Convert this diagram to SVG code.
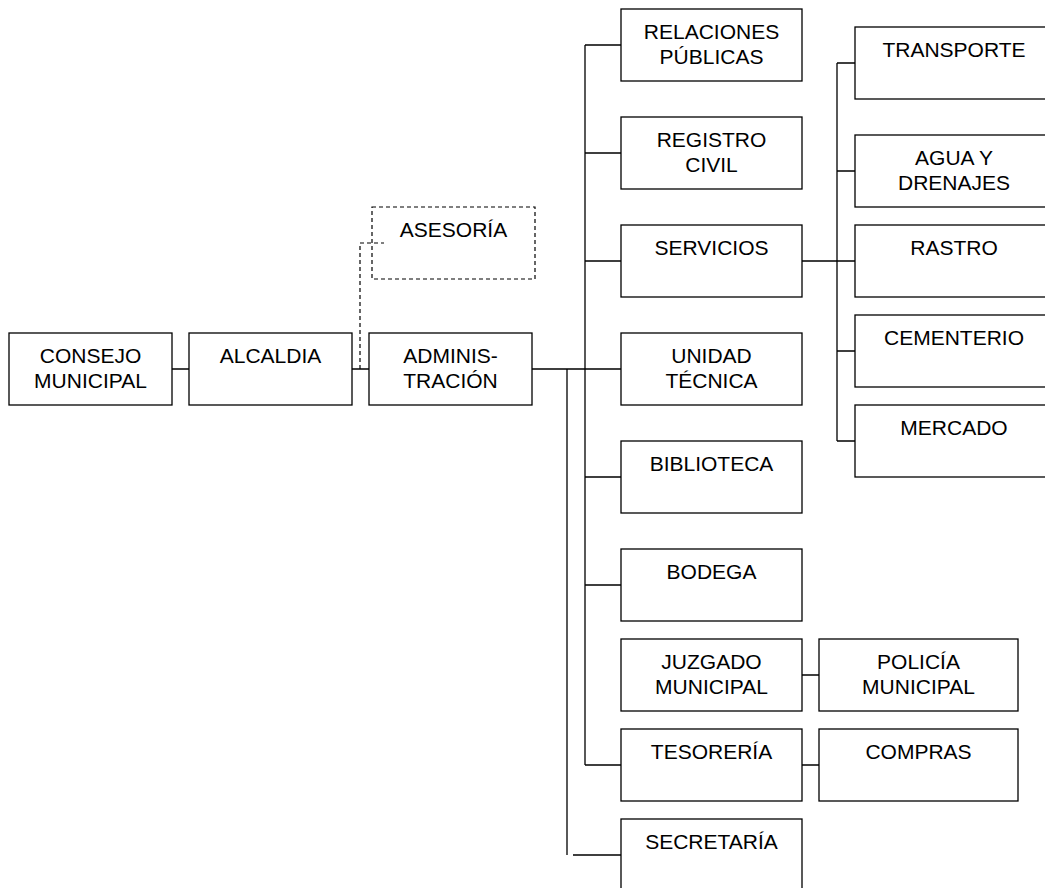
<svg xmlns="http://www.w3.org/2000/svg" width="1045" height="888" viewBox="0 0 1045 888">
<style>
.b{fill:#fff;stroke:#000;stroke-width:1.3}
.d{fill:none;stroke:#000;stroke-width:1.2;stroke-dasharray:4,3}
.c{fill:none;stroke:#000;stroke-width:1.3}
text{font-family:"Liberation Sans",Arial,sans-serif;font-size:21px;text-anchor:middle;fill:#000}
</style>
<rect width="1045" height="888" fill="#fff"/>
<g id="connectors">
<path class="c" d="M172,369H189M352,369H369M532,369H621"/>
<path class="d" d="M360,369V243H384"/>
<path class="c" d="M585,45V765M585,45H621M585,153H621M585,261H621M585,477H621M585,585H621M585,765H621"/>
<path class="c" d="M567,369V855M573,855H621"/>
<path class="c" d="M802,261H855M837,63V441M837,63H855M837,171H855M837,351H855M837,441H855"/>
<path class="c" d="M802,675H819M802,765H819"/>
</g>
<g id="consejo"><rect class="b" x="9" y="333" width="163" height="72"/><text x="90.5" y="363">CONSEJO</text><text x="90.5" y="388">MUNICIPAL</text></g>
<g id="alcaldia"><rect class="b" x="189" y="333" width="163" height="72"/><text x="270.5" y="363">ALCALDIA</text></g>
<g id="administracion"><rect class="b" x="369" y="333" width="163" height="72"/><text x="450.5" y="363">ADMINIS-</text><text x="450.5" y="388">TRACIÓN</text></g>
<g id="asesoria"><rect class="d" x="372" y="207" width="163" height="72"/><text x="453.5" y="237">ASESORÍA</text></g>
<g id="relaciones"><rect class="b" x="621" y="9" width="181" height="72"/><text x="711.5" y="39">RELACIONES</text><text x="711.5" y="64">PÚBLICAS</text></g>
<g id="registro"><rect class="b" x="621" y="117" width="181" height="72"/><text x="711.5" y="147">REGISTRO</text><text x="711.5" y="172">CIVIL</text></g>
<g id="servicios"><rect class="b" x="621" y="225" width="181" height="72"/><text x="711.5" y="255">SERVICIOS</text></g>
<g id="unidad"><rect class="b" x="621" y="333" width="181" height="72"/><text x="711.5" y="363">UNIDAD</text><text x="711.5" y="388">TÉCNICA</text></g>
<g id="biblioteca"><rect class="b" x="621" y="441" width="181" height="72"/><text x="711.5" y="471">BIBLIOTECA</text></g>
<g id="bodega"><rect class="b" x="621" y="549" width="181" height="72"/><text x="711.5" y="579">BODEGA</text></g>
<g id="juzgado"><rect class="b" x="621" y="639" width="181" height="72"/><text x="711.5" y="669">JUZGADO</text><text x="711.5" y="694">MUNICIPAL</text></g>
<g id="tesoreria"><rect class="b" x="621" y="729" width="181" height="72"/><text x="711.5" y="759">TESORERÍA</text></g>
<g id="secretaria"><rect class="b" x="621" y="819" width="181" height="80"/><text x="711.5" y="849">SECRETARÍA</text></g>
<g id="policia"><rect class="b" x="819" y="639" width="199" height="72"/><text x="918.5" y="669">POLICÍA</text><text x="918.5" y="694">MUNICIPAL</text></g>
<g id="compras"><rect class="b" x="819" y="729" width="199" height="72"/><text x="918.5" y="759">COMPRAS</text></g>
<g id="transporte"><rect class="b" x="855" y="27" width="198" height="72"/><text x="954" y="57">TRANSPORTE</text></g>
<g id="agua"><rect class="b" x="855" y="135" width="198" height="72"/><text x="954" y="165">AGUA Y</text><text x="954" y="190">DRENAJES</text></g>
<g id="rastro"><rect class="b" x="855" y="225" width="198" height="72"/><text x="954" y="255">RASTRO</text></g>
<g id="cementerio"><rect class="b" x="855" y="315" width="198" height="72"/><text x="954" y="345">CEMENTERIO</text></g>
<g id="mercado"><rect class="b" x="855" y="405" width="198" height="72"/><text x="954" y="435">MERCADO</text></g>
</svg>
